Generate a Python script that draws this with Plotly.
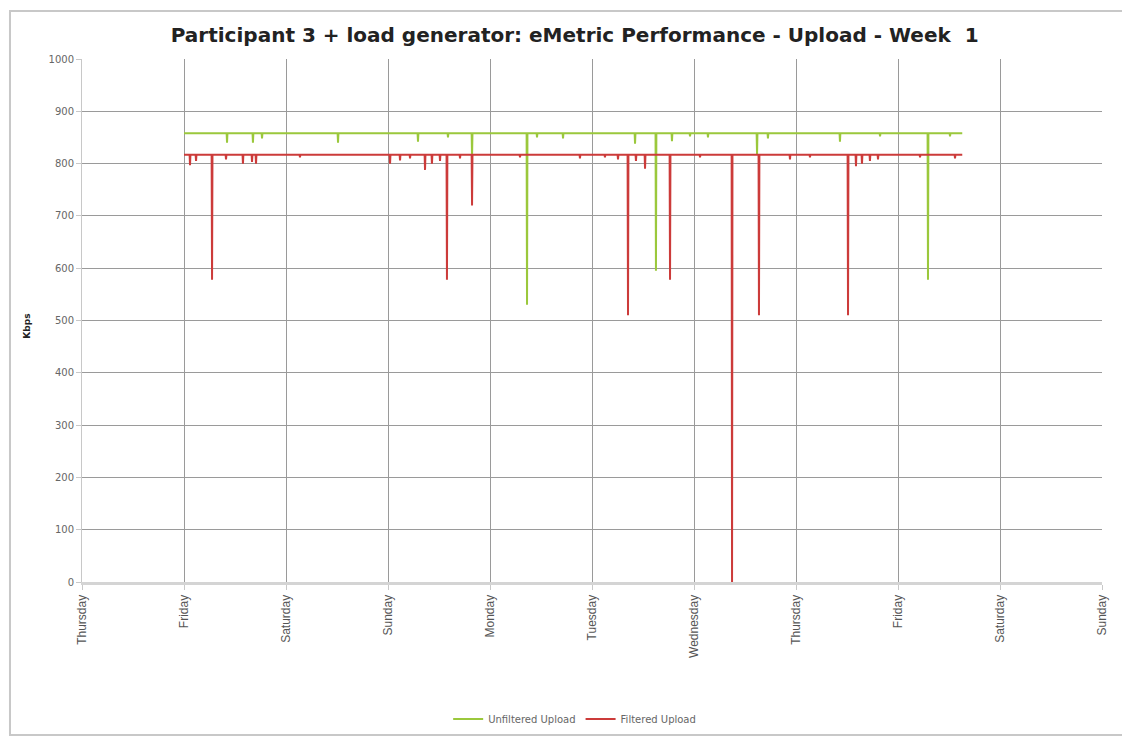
import plotly.graph_objects as go

# x values are days counted from the first Thursday tick (0 = Thursday)
day_labels = ['Thursday', 'Friday', 'Saturday', 'Sunday', 'Monday', 'Tuesday',
              'Wednesday', 'Thursday', 'Friday', 'Saturday', 'Sunday']

# Unfiltered upload: flat level with spikes
unf_start, unf_end, unf_base = 1.00, 8.63, 858
unf_dip_days = [1.422, 1.676, 1.765, 2.510, 3.294, 3.588, 3.824, 4.363, 4.461,
                4.716, 5.422, 5.627, 5.784, 5.961, 6.137, 6.618, 6.725, 7.431,
                7.824, 8.294, 8.510]
unf_dip_kbps = [840, 840, 848, 840, 842, 850, 812, 530, 850,
                848, 838, 595, 843, 852, 850, 818, 848, 842,
                852, 578, 852]

# Filtered upload
fil_start, fil_end, fil_base = 1.00, 8.63, 817
fil_dip_days = [1.059, 1.118, 1.275, 1.412, 1.578, 1.667, 1.706, 2.137, 3.020,
                3.118, 3.216, 3.363, 3.431, 3.510, 3.578, 3.706, 3.824, 4.294,
                4.882, 5.127, 5.255, 5.353, 5.431, 5.520, 5.765, 6.059, 6.373,
                6.637, 6.941, 7.137, 7.510, 7.588, 7.647, 7.725, 7.804, 8.216,
                8.559]
fil_dip_kbps = [797, 805, 578, 808, 800, 803, 800, 812, 800,
                806, 810, 788, 800, 805, 578, 810, 720, 812,
                810, 812, 808, 510, 805, 790, 578, 812, 0,
                510, 808, 812, 510, 795, 800, 805, 808, 812,
                810]


def spiky(start, end, base, days, vals, half=0.004):
    xs, ys = [start], [base]
    for d, v in zip(days, vals):
        xs += [d - half, d, d + half]
        ys += [base, v, base]
    xs.append(end)
    ys.append(base)
    return xs, ys


ux, uy = spiky(unf_start, unf_end, unf_base, unf_dip_days, unf_dip_kbps)
fx, fy = spiky(fil_start, fil_end, fil_base, fil_dip_days, fil_dip_kbps)

fig = go.Figure()
fig.add_trace(go.Scatter(x=ux, y=uy, mode='lines', name='Unfiltered Upload',
                         line=dict(color='#9bc83c', width=2)))
fig.add_trace(go.Scatter(x=fx, y=fy, mode='lines', name='Filtered Upload',
                         line=dict(color='#cc3b3a', width=2)))

# outer chart frame
fig.add_shape(type='rect', xref='paper', yref='paper',
              x0=-0.0706, x1=1.0216, y0=-0.2925, y1=1.0918,
              line=dict(color='#c8c8c8', width=2), layer='below')

# y axis title placed by hand
fig.add_annotation(text='<b>Kbps</b>', xref='paper', yref='paper',
                   x=-0.0608, y=0.49, textangle=-90, showarrow=False,
                   font=dict(family='DejaVu Sans', size=9, color='#222222'))

# the page body has an 8px margin, so the figure is sized to fit inside it
fig.update_layout(
    width=1122, height=732,
    margin=dict(l=74, r=28, t=51, b=158, autoexpand=False),
    paper_bgcolor='white', plot_bgcolor='white',
    title=dict(text='<b>Participant 3 + load generator: eMetric Performance - Upload - Week  1</b>',
               x=0.483, xanchor='center', xref='paper', y=0.963, yanchor='middle',
               font=dict(family='DejaVu Sans', size=20, color='#222222')),
    font=dict(family='DejaVu Sans', color='#555555'),
    showlegend=True,
    legend=dict(orientation='h', x=0.483, xanchor='center', y=-0.262, yanchor='middle',
                font=dict(size=10, color='#666666')),
    xaxis=dict(range=[0, 10], tickmode='array', tickvals=list(range(len(day_labels))),
               ticktext=day_labels, tickangle=-90,
               tickfont=dict(family='Liberation Sans', size=12, color='#555555'),
               showgrid=True, gridcolor='#9a9a9a', gridwidth=1, automargin=False,
               showline=True, linecolor='#d4d4d4', linewidth=3,
               ticks='outside', ticklen=5, tickcolor='#c8c8c8', zeroline=False),
    yaxis=dict(range=[0, 1000], dtick=100, tickfont=dict(size=10, color='#666666'),
               showgrid=True, gridcolor='#9a9a9a', gridwidth=1, automargin=False,
               showline=True, linecolor='#c8c8c8', linewidth=1,
               ticks='outside', ticklen=5, tickcolor='#c8c8c8', zeroline=False),
)

fig.write_html('out.html')
